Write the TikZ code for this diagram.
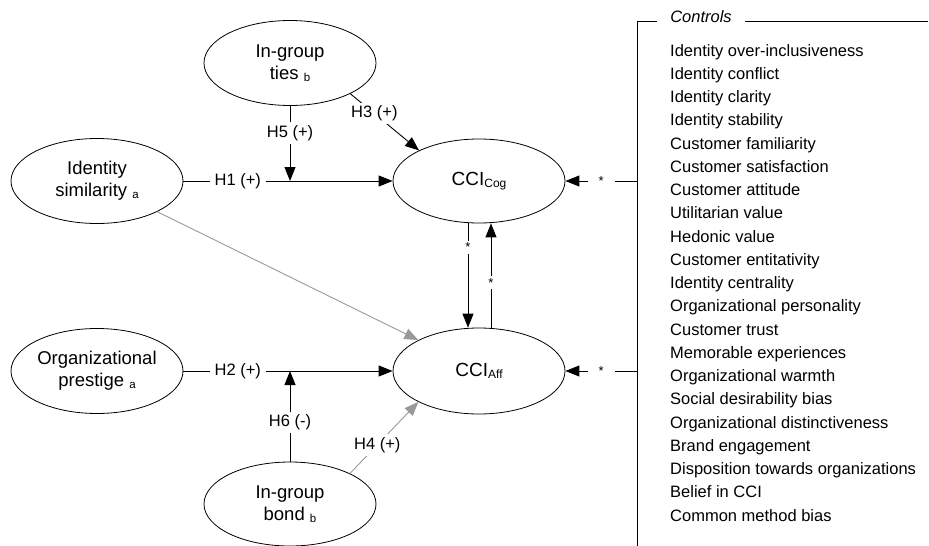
\documentclass[tikz,border=0pt]{standalone}
\usepackage{fontspec}
\setmainfont{Liberation Sans}
\usetikzlibrary{arrows.meta,shapes.geometric}
\def\lowtag#1{\raisebox{-1.5pt}{\fontsize{11.5}{11.5}\selectfont #1}}
\tikzset{
	construct/.style={ellipse, draw, line width=0.8pt, inner sep=0pt, minimum width=172pt, minimum height=85pt, align=center, font=\fontsize{18.5}{22}\selectfont},
	hyp/.style={line width=0.9pt, -{Triangle[length=14pt,width=11pt]}},
	grayhyp/.style={hyp, draw=black!40},
	tag/.style={fill=white, inner xsep=5pt, inner ysep=3pt, font=\fontsize{16.5}{18}\selectfont},
	startag/.style={fill=white, inner xsep=2pt, inner ysep=2pt, font=\fontsize{13}{13}\selectfont},
	ctrlitem/.style={anchor=base west, inner sep=0pt, font=\fontsize{16.5}{18}\selectfont}
}

\begin{document}
\begin{tikzpicture}[x=1pt, y=-1pt]
			%%%%% START %%%%%
			\useasboundingbox (0, 0) rectangle (929, 546);
			
			\node[construct] (ties) at (290, 63) {In-group\\ties \lowtag{b}};
			\node[construct] (idsim) at (97, 181) {Identity\\similarity \lowtag{a}};
			\node[construct] (prest) at (97, 371) {Organizational\\prestige \lowtag{a}};
			\node[construct, minimum height=84pt] (bond) at (290, 504) {In-group\\bond \lowtag{b}};
			\node[construct, minimum height=84pt, font=\fontsize{19}{22}\selectfont] (cog) at (479, 181) {CCI\raisebox{-2pt}{\fontsize{12}{12}\selectfont Cog}};
			\node[construct, minimum height=86pt, font=\fontsize{19}{22}\selectfont] (aff) at (479, 371) {CCI\raisebox{-2pt}{\fontsize{12}{12}\selectfont Aff}};
			
			\coordinate (m1) at (ties.south |- cog);
			\coordinate (m2) at (bond.north |- aff);
			
			\draw[hyp] (idsim) -- node[tag, pos=0.26] {H1 (+)} (cog);
			\draw[hyp] (prest) -- node[tag, pos=0.26] {H2 (+)} (aff);
			\draw[hyp] (ties.south) -- node[tag, pos=0.36] {H5 (+)} (m1);
			\draw[hyp] (bond.north) -- node[tag, pos=0.43] {H6 (-)} (m2);
			\draw[hyp] (ties.-27) -- node[tag, pos=0.35] {H3 (+)} (cog.153);
			\draw[grayhyp] (bond.27) -- node[tag, pos=0.4] {H4 (+)} (aff.207);
			\draw[grayhyp] (idsim.-27) -- (aff.153);
			
			\draw[hyp] ([xshift=-11pt]cog.south) -- node[startag, pos=0.23] {*} ([xshift=-11pt]aff.north);
			\draw[hyp] ([xshift=12pt]aff.north) -- node[startag, pos=0.43] {*} ([xshift=12pt]cog.south);
			
			% controls bracket
			\coordinate (bartop) at (637, 21);
			\coordinate (barbot) at (637, 546);
			\coordinate (barend) at (928, 21);
			\draw[line width=0.9pt] (barbot) -- (bartop) -- (barend);
			\node[fill=white, anchor=base, inner xsep=13pt, font=\fontsize{16.5}{18}\selectfont\itshape] (ctl) at (701, 22) {Controls};
			
			\draw[hyp] (bartop |- cog) -- node[startag, inner xsep=11pt] {*} (cog.east);
			\draw[hyp] (bartop |- aff) -- node[startag, inner xsep=11pt] {*} (aff.east);
			
			\foreach \txt [count=\i] in {Identity over-inclusiveness, Identity conflict, Identity clarity, Identity stability, Customer familiarity, Customer satisfaction, Customer attitude, Utilitarian value, Hedonic value, Customer entitativity, Identity centrality, Organizational personality, Customer trust, Memorable experiences, Organizational warmth, Social desirability bias, Organizational distinctiveness, Brand engagement, Disposition towards organizations, Belief in CCI, Common method bias}
				\node[ctrlitem] (item\i) at (670, {56 + 23.25*(\i-1)}) {\txt};
			
			%%%%% END %%%%%
\end{tikzpicture}
\end{document}
